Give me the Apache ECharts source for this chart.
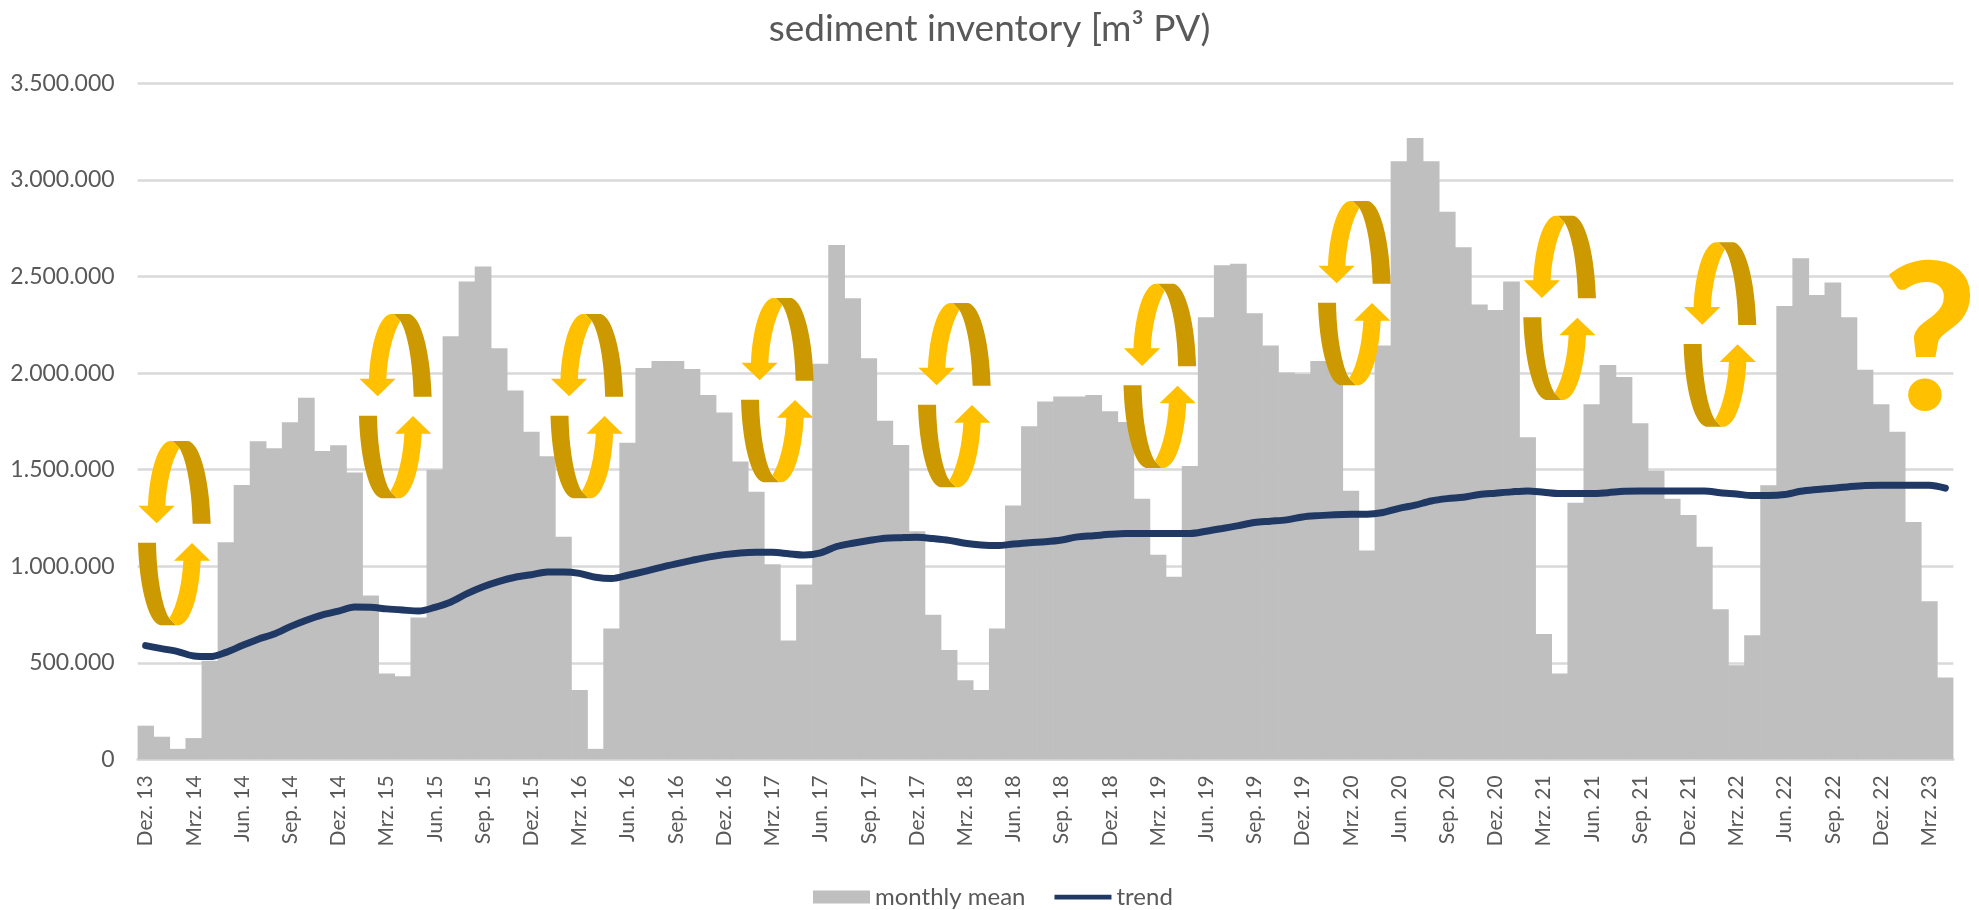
<!DOCTYPE html>
<html>
<head>
<meta charset="utf-8">
<title>sediment inventory</title>
<script src="https://cdn.jsdelivr.net/npm/echarts@6/dist/echarts.min.js"></script>
<style>
  html, body { margin: 0; padding: 0; background: #fff; }
  #chart { width: 1979px; height: 910px; }
</style>
</head>
<body>
<div id="chart"></div>
<script>
const categories = [
  'Dez. 13',
  'Jan. 14', 'Feb. 14', 'Mrz. 14', 'Apr. 14', 'Mai. 14', 'Jun. 14', 'Jul. 14', 'Aug. 14', 'Sep. 14', 'Okt. 14', 'Nov. 14', 'Dez. 14',
  'Jan. 15', 'Feb. 15', 'Mrz. 15', 'Apr. 15', 'Mai. 15', 'Jun. 15', 'Jul. 15', 'Aug. 15', 'Sep. 15', 'Okt. 15', 'Nov. 15', 'Dez. 15',
  'Jan. 16', 'Feb. 16', 'Mrz. 16', 'Apr. 16', 'Mai. 16', 'Jun. 16', 'Jul. 16', 'Aug. 16', 'Sep. 16', 'Okt. 16', 'Nov. 16', 'Dez. 16',
  'Jan. 17', 'Feb. 17', 'Mrz. 17', 'Apr. 17', 'Mai. 17', 'Jun. 17', 'Jul. 17', 'Aug. 17', 'Sep. 17', 'Okt. 17', 'Nov. 17', 'Dez. 17',
  'Jan. 18', 'Feb. 18', 'Mrz. 18', 'Apr. 18', 'Mai. 18', 'Jun. 18', 'Jul. 18', 'Aug. 18', 'Sep. 18', 'Okt. 18', 'Nov. 18', 'Dez. 18',
  'Jan. 19', 'Feb. 19', 'Mrz. 19', 'Apr. 19', 'Mai. 19', 'Jun. 19', 'Jul. 19', 'Aug. 19', 'Sep. 19', 'Okt. 19', 'Nov. 19', 'Dez. 19',
  'Jan. 20', 'Feb. 20', 'Mrz. 20', 'Apr. 20', 'Mai. 20', 'Jun. 20', 'Jul. 20', 'Aug. 20', 'Sep. 20', 'Okt. 20', 'Nov. 20', 'Dez. 20',
  'Jan. 21', 'Feb. 21', 'Mrz. 21', 'Apr. 21', 'Mai. 21', 'Jun. 21', 'Jul. 21', 'Aug. 21', 'Sep. 21', 'Okt. 21', 'Nov. 21', 'Dez. 21',
  'Jan. 22', 'Feb. 22', 'Mrz. 22', 'Apr. 22', 'Mai. 22', 'Jun. 22', 'Jul. 22', 'Aug. 22', 'Sep. 22', 'Okt. 22', 'Nov. 22', 'Dez. 22',
  'Jan. 23', 'Feb. 23', 'Mrz. 23', 'Apr. 23'
];

const monthlyMean = [
  174000,
  117000, 54000, 110000, 511000, 1124000, 1420000, 1647000, 1611000, 1746000, 1873000, 1597000, 1626000,
  1485000, 848000, 444000, 430000, 734000, 1499000, 2191000, 2474000, 2552000, 2129000, 1910000, 1696000,
  1570000, 1152000, 359000, 54000, 677000, 1640000, 2027000, 2063000, 2063000, 2022000, 1887000, 1796000,
  1542000, 1386000, 1010000, 615000, 905000, 2048000, 2664000, 2388000, 2077000, 1754000, 1628000, 1181000,
  749000, 566000, 409000, 359000, 677000, 1314000, 1725000, 1853000, 1879000, 1879000, 1887000, 1803000,
  1747000, 1350000, 1060000, 946000, 1519000, 2289000, 2559000, 2566000, 2310000, 2143000, 2003000, 1996000,
  2063000, 2063000, 1391000, 1081000, 2143000, 3097000, 3218000, 3097000, 2836000, 2652000, 2355000, 2327000,
  2474000, 1668000, 649000, 444000, 1329000, 1839000, 2042000, 1980000, 1740000, 1495000, 1350000, 1265000,
  1101000, 777000, 487000, 642000, 1419000, 2348000, 2595000, 2405000, 2469000, 2289000, 2017000, 1839000,
  1696000, 1229000, 818000, 423000
];

const trend = [
  589000,
  573000, 558000, 535000, 532000, 554000, 589000, 622000, 649000, 687000, 720000, 748000, 767000,
  789000, 787000, 779000, 773000, 768000, 787000, 815000, 858000, 894000, 922000, 943000, 956000,
  970000, 970000, 963000, 943000, 936000, 953000, 972000, 993000, 1012000, 1030000, 1047000, 1060000,
  1069000, 1072000, 1072000, 1065000, 1058000, 1069000, 1102000, 1119000, 1133000, 1145000, 1148000, 1150000,
  1143000, 1134000, 1119000, 1110000, 1107000, 1115000, 1122000, 1127000, 1136000, 1152000, 1158000, 1165000,
  1169000, 1169000, 1169000, 1169000, 1169000, 1181000, 1195000, 1210000, 1226000, 1233000, 1240000, 1255000,
  1262000, 1267000, 1269000, 1269000, 1278000, 1300000, 1316000, 1338000, 1350000, 1357000, 1371000, 1378000,
  1385000, 1390000, 1383000, 1376000, 1376000, 1376000, 1381000, 1388000, 1390000, 1390000, 1390000, 1390000,
  1390000, 1381000, 1374000, 1366000, 1366000, 1371000, 1388000, 1397000, 1404000, 1412000, 1418000, 1419000,
  1419000, 1419000, 1419000, 1404000
];

const FONT = 'Lato, "Open Sans", sans-serif';
const TEXT_COLOR = '#595959';
const LINE_COLOR = '#D9D9D9';

// the rotation arrows lying on top of the chart, [left, top] in page pixels
const loopPositions = [
  [138, 441], [359, 314], [550.5, 314], [741, 298], [918, 303],
  [1123.5, 283.7], [1318, 201], [1523.3, 215.7], [1683.6, 242.3]
];

// graphic has no plain path type, so the two arrow pieces are registered as shapes
echarts.graphic.registerShape('loopDark', echarts.graphic.extendPath(
  'M104 0 L151 0 C190 10 215 130 218 248 L164 248 C162 140 145 55 124 21 Z'
));
echarts.graphic.registerShape('loopLight', echarts.graphic.extendPath(
  'M96 0 L104 0 L124 21 C100 60 85 130 82 194 L110 194 L56 247 L1 194 L30 194 C35 90 60 5 96 0 Z'
));

function loopHalf(extra) {
  return [
    Object.assign({ type: 'loopDark', z: 100, style: { fill: '#CC9900' } }, extra),
    Object.assign({ type: 'loopLight', z: 101, style: { fill: '#FFC000' } }, extra)
  ];
}

function loopGraphic(pos) {
  return {
    type: 'group',
    x: pos[0],
    y: pos[1],
    scaleX: 1 / 3,
    scaleY: 1 / 3,
    // lower half is the upper one turned by 180 degrees
    children: loopHalf({}).concat(loopHalf({ x: 218, y: 553, rotation: Math.PI }))
  };
}

const chart = echarts.init(document.getElementById('chart'));

chart.setOption({
  animation: false,
  textStyle: { fontFamily: FONT },
  title: {
    text: 'sediment inventory [m³ PV)',
    left: 'center',
    top: 6,
    textStyle: { fontFamily: FONT, fontSize: 37, fontWeight: 'normal', color: TEXT_COLOR }
  },
  legend: {
    top: 880,
    left: 808,
    itemGap: 29,
    itemWidth: 57,
    itemHeight: 13,
    textStyle: { fontFamily: FONT, fontSize: 24, color: TEXT_COLOR },
    data: [
      { name: 'monthly mean', icon: 'rect' },
      // empty corners keep the icon box at full height, only the middle band is filled
      { name: 'trend', icon: 'path://M0 0L0 0Z M0 4H60V9H0Z M60 13L60 13Z' }
    ]
  },
  grid: { left: 137.6, right: 25.6, top: 83.5, bottom: 150.7 },
  xAxis: {
    type: 'category',
    data: categories,
    boundaryGap: true,
    axisLine: { lineStyle: { color: LINE_COLOR, width: 2.5 } },
    axisTick: { interval: 2, length: 7, lineStyle: { color: LINE_COLOR, width: 2 } },
    axisLabel: { interval: 2, rotate: 90, margin: 16, fontSize: 21, color: TEXT_COLOR, fontFamily: FONT }
  },
  yAxis: {
    type: 'value',
    min: 0,
    max: 3500000,
    interval: 500000,
    axisLine: { show: false },
    axisTick: { show: false },
    splitLine: { lineStyle: { color: LINE_COLOR, width: 2.5 } },
    axisLabel: {
      margin: 23,
      fontSize: 23,
      color: TEXT_COLOR,
      fontFamily: FONT,
      formatter: function (value) {
        return String(value).replace(/\B(?=(\d{3})+$)/g, '.');
      }
    }
  },
  series: [
    {
      name: 'monthly mean',
      type: 'bar',
      barWidth: '104%', // slight overlap, otherwise hairline seams show between months
      itemStyle: { color: '#BFBFBF' },
      data: monthlyMean
    },
    {
      name: 'trend',
      type: 'line',
      smooth: 0.3,
      showSymbol: false,
      symbol: 'none',
      lineStyle: { color: '#1F3864', width: 7, cap: 'round' },
      itemStyle: { color: '#1F3864' },
      data: trend
    }
  ],
  graphic: loopPositions.map(loopGraphic).concat([
    {
      type: 'text',
      z: 100,
      x: 1930,
      y: 344,
      style: {
        text: '?',
        fill: '#FFC000',
        font: '900 205px ' + FONT,
        textAlign: 'center',
        textVerticalAlign: 'middle'
      }
    }
  ])
});
</script>
</body>
</html>
